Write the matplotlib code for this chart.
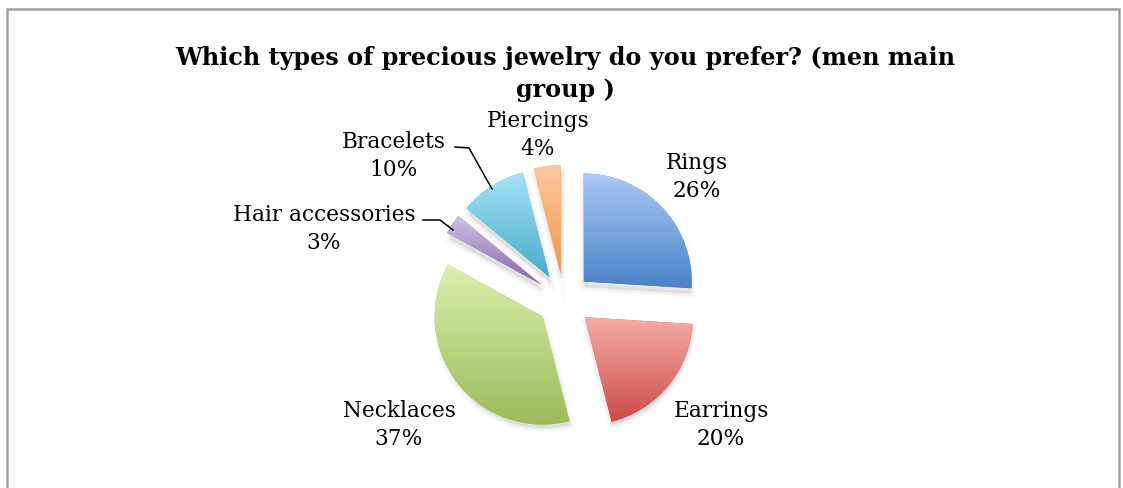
import numpy as np
import matplotlib.pyplot as plt
from matplotlib.colors import LinearSegmentedColormap
from matplotlib.patches import Wedge, Rectangle

# survey shares, clockwise from 12 o'clock
categories = ['Rings', 'Earrings', 'Necklaces', 'Hair accessories', 'Bracelets', 'Piercings']
shares = [26, 20, 37, 3, 10, 4]
top_colors = ['#abc9f4', '#f6aca8', '#dbefae', '#cfc0e4', '#a4e4f8', '#fcc9a1']
base_colors = ['#4a82c6', '#cc4c48', '#9bbb59', '#8466ab', '#48abc9', '#f69446']

title = 'Which types of precious jewelry do you prefer? (men main\ngroup )'

W, H = 1123, 488
CX, CY, R = 564, 300, 108   # pie centre / radius in pixels


def px(x, y):
    """pixel position -> data units of the pie axes"""
    return (x - CX) / R, (CY - y) / R


plt.rcParams['font.family'] = ['DejaVu Serif']

fig = plt.figure(figsize=(W / 100, H / 100), dpi=100)
ax = fig.add_axes([0, 0, 1, 1])

wedges, _ = ax.pie(shares, explode=[0.25] * len(shares), startangle=90,
                   counterclock=False, colors=base_colors,
                   wedgeprops=dict(linewidth=0, zorder=3))

# soft drop shadow under each slice
for w in wedges:
    cx, cy = w.center
    for lw in [6, 4, 2]:
        ax.add_patch(Wedge((cx + 0.01, cy - 0.05), w.r * 0.98, w.theta1, w.theta2,
                           facecolor=(0, 0, 0, 0.025), edgecolor=(0, 0, 0, 0.025),
                           linewidth=lw, zorder=1))

# vertical gradient fill, light at the top
grad = np.linspace(0, 1, 256).reshape(-1, 1)
for w, c_top, c_base in zip(wedges, top_colors, base_colors):
    ext = w.get_patch_transform().transform_path(w.get_path()).get_extents()
    cmap = LinearSegmentedColormap.from_list('g', [c_base, c_top])
    im = ax.imshow(grad, cmap=cmap, origin='lower', aspect='auto',
                   extent=[ext.x0, ext.x1, ext.y0, ext.y1],
                   interpolation='bilinear', zorder=4)
    im.set_clip_path(w)

ax.set_xlim(-CX / R, (W - CX) / R)
ax.set_ylim(-(H - CY) / R, CY / R)
ax.set_aspect('auto')
ax.axis('off')

# data labels
label_pos = [(697, 177), (721, 425), (399, 425), (324, 229), (394, 156), (538, 135)]
for name, v, (lx, ly) in zip(categories, shares, label_pos):
    ax.text(*px(lx, ly), f'{name}\n{v}%', ha='center', va='center',
            fontsize=15.6, linespacing=1.3, zorder=6)

# leader lines for the small slices
for pts in [[(455, 147), (469, 148), (492, 189)],
            [(423, 220), (440, 220), (453, 230)]]:
    xs, ys = zip(*[px(*p) for p in pts])
    ax.plot(xs, ys, color='black', linewidth=1.1, zorder=5)

fig.text(565 / W, 1 - 74 / H, title, ha='center', va='center',
         fontsize=17.2, fontweight='bold', linespacing=1.45)

# chart area border
fig.patches.append(Rectangle((7 / W, -0.05), 1112 / W, 1.05 - 9 / H,
                             transform=fig.transFigure, fill=False,
                             edgecolor='#a0a0a0', linewidth=1.8))

fig.savefig('out.png', dpi=100)
